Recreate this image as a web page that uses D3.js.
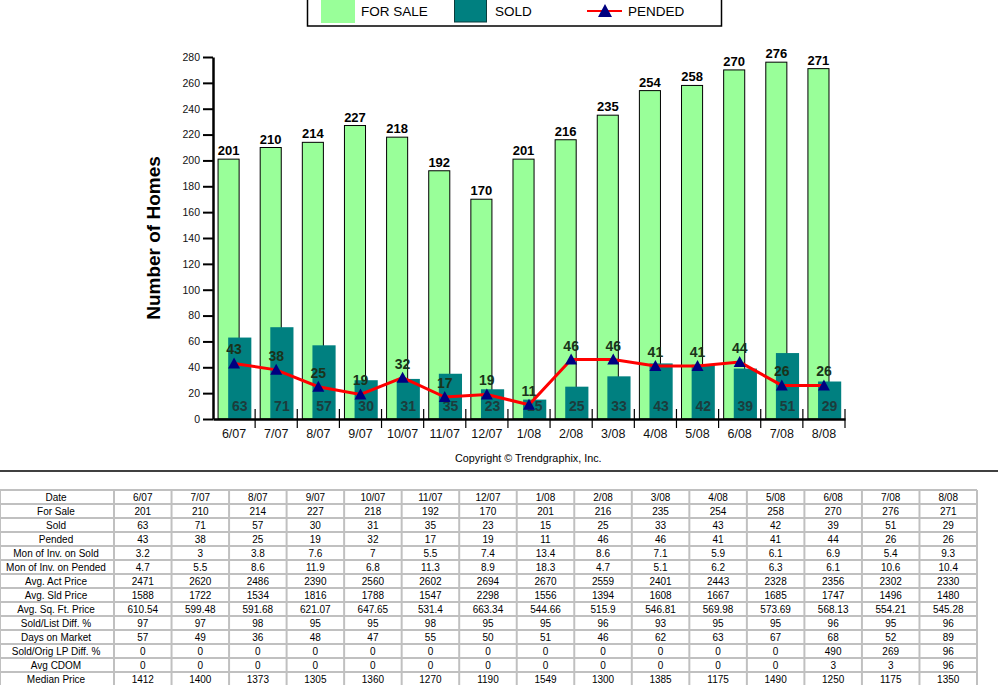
<!DOCTYPE html>
<html>
<head>
<meta charset="utf-8">
<script src="https://cdn.jsdelivr.net/npm/d3@7"></script>
<style>
  body { margin: 0; background: #fff; }
  svg { display: block; font-family: "Liberation Sans", Arial, sans-serif; }
</style>
</head>
<body>
<div id="chart"></div>
<script>
// Chart data
const dates = ["6/07", "7/07", "8/07", "9/07", "10/07", "11/07", "12/07", "1/08", "2/08", "3/08", "4/08", "5/08", "6/08", "7/08", "8/08"];
const forSale = [201, 210, 214, 227, 218, 192, 170, 201, 216, 235, 254, 258, 270, 276, 271];
const sold = [63, 71, 57, 30, 31, 35, 23, 15, 25, 33, 43, 42, 39, 51, 29];
const pended = [43, 38, 25, 19, 32, 17, 19, 11, 46, 46, 41, 41, 44, 26, 26];
const yTicks = [0, 20, 40, 60, 80, 100, 120, 140, 160, 180, 200, 220, 240, 260, 280];

// Extra table rows
const monInvSold = ["3.2", "3", "3.8", "7.6", "7", "5.5", "7.4", "13.4", "8.6", "7.1", "5.9", "6.1", "6.9", "5.4", "9.3"];
const monInvPended = ["4.7", "5.5", "8.6", "11.9", "6.8", "11.3", "8.9", "18.3", "4.7", "5.1", "6.2", "6.3", "6.1", "10.6", "10.4"];
const avgActPrice = [2471, 2620, 2486, 2390, 2560, 2602, 2694, 2670, 2559, 2401, 2443, 2328, 2356, 2302, 2330];
const avgSldPrice = [1588, 1722, 1534, 1816, 1788, 1547, 2298, 1556, 1394, 1608, 1667, 1685, 1747, 1496, 1480];
const avgSqFtPrice = ["610.54", "599.48", "591.68", "621.07", "647.65", "531.4", "663.34", "544.66", "515.9", "546.81", "569.98", "573.69", "568.13", "554.21", "545.28"];
const soldListDiff = [97, 97, 98, 95, 95, 98, 95, 95, 96, 93, 95, 95, 96, 95, 96];
const daysOnMarket = [57, 49, 36, 48, 47, 55, 50, 51, 46, 62, 63, 67, 68, 52, 89];
const soldOrigDiff = [0, 0, 0, 0, 0, 0, 0, 0, 0, 0, 0, 0, 490, 269, 96];
const avgCdom = [0, 0, 0, 0, 0, 0, 0, 0, 0, 0, 0, 0, 3, 3, 96];
const medianPrice = [1412, 1400, 1373, 1305, 1360, 1270, 1190, 1549, 1300, 1385, 1175, 1490, 1250, 1175, 1350];

const rowLabels = ["Date", "For Sale", "Sold", "Pended", "Mon of Inv. on Sold", "Mon of Inv. on Pended",
  "Avg. Act Price", "Avg. Sld Price", "Avg. Sq. Ft. Price", "Sold/List Diff. %", "Days on Market",
  "Sold/Orig LP Diff. %", "Avg CDOM", "Median Price"];
const rowValues = [dates, forSale, sold, pended, monInvSold, monInvPended, avgActPrice, avgSldPrice,
  avgSqFtPrice, soldListDiff, daysOnMarket, soldOrigDiff, avgCdom, medianPrice];

const GREEN = "#99ff99";
const TEAL = "#008080";

const svg = d3.select("#chart").append("svg")
  .attr("width", 998)
  .attr("height", 685);

// Scales
const x = d3.scaleBand().domain(dates).range([213, 845]);
const y = d3.scaleLinear().domain([0, 280]).range([419, 57]);
const bw = x.bandwidth();

const data = dates.map((d, i) => ({ date: d, forSale: forSale[i], sold: sold[i], pended: pended[i] }));

// Legend
const legend = svg.append("g");
legend.append("rect")
  .attr("x", 307.5).attr("y", -2).attr("width", 414).attr("height", 28)
  .attr("fill", "#fff").attr("stroke", "#000").attr("stroke-width", 1.5);
legend.append("rect").attr("x", 321).attr("y", -1).attr("width", 34).attr("height", 24).attr("fill", GREEN);
legend.append("text").attr("x", 361).attr("y", 16).attr("font-size", 13.5).text("FOR SALE");
legend.append("rect").attr("x", 454.5).attr("y", -1).attr("width", 32).attr("height", 23)
  .attr("fill", TEAL).attr("stroke", "#0b3b3b").attr("stroke-width", 1);
legend.append("text").attr("x", 495).attr("y", 16).attr("font-size", 13.5).text("SOLD");
legend.append("line").attr("x1", 587).attr("x2", 622).attr("y1", 11).attr("y2", 11)
  .attr("stroke", "red").attr("stroke-width", 2);
legend.append("path").attr("d", "M605,4L612,17L598,17Z").attr("fill", "#000080");
legend.append("text").attr("x", 628).attr("y", 16).attr("font-size", 13.5).text("PENDED");

// Bars: for sale
svg.selectAll(".bar-sale")
  .data(data)
  .join("rect")
  .attr("class", "bar-sale")
  .attr("x", d => x(d.date) + bw * 0.12)
  .attr("y", d => y(d.forSale))
  .attr("width", bw * 0.5)
  .attr("height", d => y(0) - y(d.forSale))
  .attr("fill", GREEN)
  .attr("stroke", "#000")
  .attr("stroke-width", 1);

// Bars: sold
svg.selectAll(".bar-sold")
  .data(data)
  .join("rect")
  .attr("class", "bar-sold")
  .attr("x", d => x(d.date) + bw * 0.36)
  .attr("y", d => y(d.sold))
  .attr("width", bw * 0.55)
  .attr("height", d => y(0) - y(d.sold))
  .attr("fill", TEAL);

// Y axis
const yAxis = svg.append("g")
  .attr("transform", "translate(213,0)")
  .call(d3.axisLeft(y).tickValues(yTicks).tickSize(10).tickSizeOuter(0).tickPadding(3));
yAxis.select(".domain").attr("stroke-width", 2.5);
yAxis.selectAll(".tick line").attr("stroke-width", 2);
yAxis.selectAll(".tick text").attr("font-size", 10.5).attr("font-family", "Liberation Sans, Arial, sans-serif").attr("fill", "#111");

// X axis
const xAxis = svg.append("g")
  .attr("transform", "translate(0,419)")
  .call(d3.axisBottom(x).tickSize(0).tickPadding(10));
xAxis.select(".domain").attr("stroke-width", 2.5);
xAxis.selectAll(".tick text").attr("font-size", 12.5).attr("font-family", "Liberation Sans, Arial, sans-serif").attr("fill", "#111");

// Tick marks between months
svg.selectAll(".x-sep")
  .data(dates)
  .join("line")
  .attr("class", "x-sep")
  .attr("x1", d => x(d) + bw).attr("x2", d => x(d) + bw)
  .attr("y1", 409).attr("y2", 428)
  .attr("stroke", "#000").attr("stroke-width", 1.2);

// Y title
svg.append("text")
  .attr("transform", "translate(153,238) rotate(-90)")
  .attr("text-anchor", "middle")
  .attr("dy", "0.35em")
  .attr("font-size", 19)
  .attr("font-weight", "bold")
  .text("Number of Homes");

// Value labels for sale
svg.selectAll(".lbl-sale")
  .data(data)
  .join("text")
  .attr("class", "lbl-sale")
  .attr("x", d => x(d.date) + bw * 0.37)
  .attr("y", d => y(d.forSale) - 4)
  .attr("text-anchor", "middle")
  .attr("font-size", 13)
  .attr("font-weight", "bold")
  .text(d => d.forSale);

// Value labels sold
svg.selectAll(".lbl-sold")
  .data(data)
  .join("text")
  .attr("class", "lbl-sold")
  .attr("x", d => x(d.date) + bw * 0.635)
  .attr("y", 411)
  .attr("text-anchor", "middle")
  .attr("font-size", 14)
  .attr("font-weight", "bold")
  .attr("fill", "#1c3c3c")
  .text(d => d.sold);

// Pended line
const line = d3.line()
  .x(d => x(d.date) + bw / 2)
  .y(d => y(d.pended));

svg.append("path")
  .datum(data)
  .attr("fill", "none")
  .attr("stroke", "red")
  .attr("stroke-width", 3)
  .attr("d", line);

svg.selectAll(".tri")
  .data(data)
  .join("path")
  .attr("class", "tri")
  .attr("transform", d => `translate(${x(d.date) + bw / 2},${y(d.pended)})`)
  .attr("d", "M0,-6L6,5L-6,5Z")
  .attr("fill", "#000080");

svg.selectAll(".lbl-pend")
  .data(data)
  .join("text")
  .attr("class", "lbl-pend")
  .attr("x", d => x(d.date) + bw / 2)
  .attr("y", d => y(d.pended) - 9)
  .attr("text-anchor", "middle")
  .attr("font-size", 14)
  .attr("font-weight", "bold")
  .attr("fill", "#1a331a")
  .text(d => d.pended);

// Copyright
svg.append("text")
  .attr("x", 455).attr("y", 462)
  .attr("font-size", 10.8)
  .text("Copyright \u00a9 Trendgraphix, Inc.");

// Separator
svg.append("line")
  .attr("x1", 0).attr("x2", 998).attr("y1", 471).attr("y2", 471)
  .attr("stroke", "#000").attr("stroke-width", 1.5);

// Data table
const colX = d3.scaleBand().domain(dates).range([114, 977]);
const rowY = d3.scaleBand().domain(d3.range(rowLabels.length)).range([490, 490 + 14 * rowLabels.length]);
const table = svg.append("g");

// grid lines
table.selectAll(".hline")
  .data(d3.range(rowLabels.length + 1))
  .join("line")
  .attr("x1", 0).attr("x2", 977)
  .attr("y1", i => 490 + i * rowY.bandwidth()).attr("y2", i => 490 + i * rowY.bandwidth())
  .attr("stroke", "#c0c0c0").attr("stroke-width", 2);

table.selectAll(".vline")
  .data([0, 114].concat(dates.map(d => colX(d) + colX.bandwidth())))
  .join("line")
  .attr("x1", d => d).attr("x2", d => d)
  .attr("y1", 490).attr("y2", 490 + 14 * rowLabels.length)
  .attr("stroke", "#c0c0c0").attr("stroke-width", 2);

const rows = table.selectAll(".row")
  .data(rowLabels.map((label, i) => ({ label: label, values: rowValues[i], i: i })))
  .join("g")
  .attr("transform", d => `translate(0,${rowY(d.i) + 7})`);

rows.append("text")
  .attr("x", 56)
  .attr("dy", "0.35em")
  .attr("text-anchor", "middle")
  .attr("font-size", 10)
  .text(d => d.label);

rows.selectAll(".cell")
  .data(d => d.values)
  .join("text")
  .attr("x", (v, j) => colX(dates[j]) + colX.bandwidth() / 2)
  .attr("dy", "0.35em")
  .attr("text-anchor", "middle")
  .attr("font-size", 10)
  .text(v => v);
</script>
</body>
</html>
